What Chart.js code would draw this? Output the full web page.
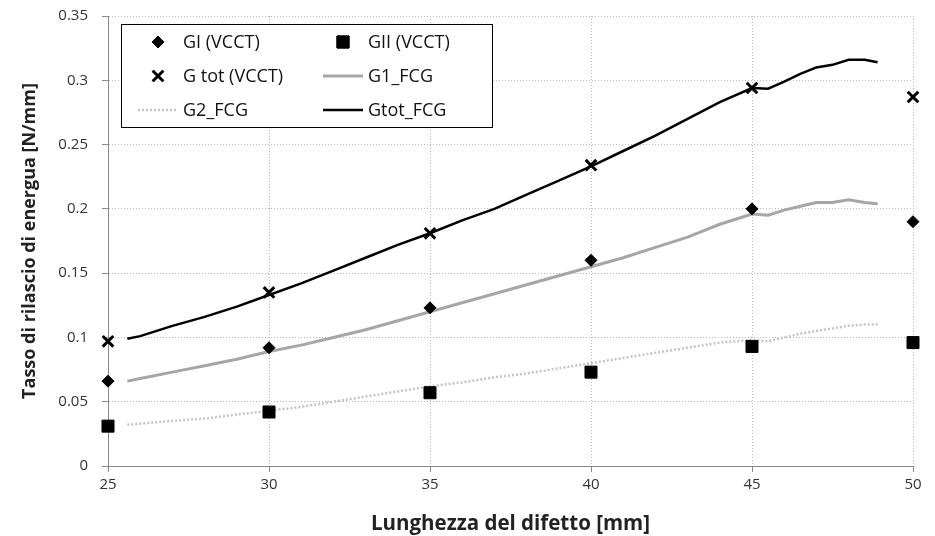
<!DOCTYPE html>
<html>
<head>
<meta charset="utf-8">
<script src="https://cdn.jsdelivr.net/npm/chart.js@4.4.0/dist/chart.umd.min.js"></script>
<style>
  html, body { margin: 0; padding: 0; background: #fff; }
  #wrap { width: 935px; height: 536px; }
</style>
</head>
<body>
<div id="wrap"><canvas id="myChart" width="935" height="536"></canvas></div>
<script>
// VCCT points (crack length in mm)
const vcctX = [25, 30, 35, 40, 45, 50];
const giVcct = [0.066, 0.092, 0.123, 0.160, 0.200, 0.190];
const giiVcct = [0.031, 0.042, 0.057, 0.073, 0.093, 0.096];
const gtotVcct = [0.097, 0.135, 0.181, 0.234, 0.294, 0.287];

// FCG curves
const fcgX = [25.6, 26, 27, 28, 29, 30, 31, 32, 33, 34, 35, 36, 37, 38, 39, 40, 41, 42, 43, 44, 45, 45.5, 46, 46.5, 47, 47.5, 48, 48.5, 48.9];
const g1Fcg = [0.066, 0.068, 0.073, 0.078, 0.083, 0.089, 0.094, 0.100, 0.106, 0.113, 0.120, 0.127, 0.134, 0.141, 0.148, 0.155, 0.162, 0.170, 0.178, 0.188, 0.196, 0.195, 0.199, 0.202, 0.205, 0.205, 0.207, 0.205, 0.204];
const g2Fcg = [0.032, 0.033, 0.035, 0.037, 0.040, 0.043, 0.046, 0.050, 0.054, 0.058, 0.062, 0.065, 0.069, 0.072, 0.076, 0.080, 0.084, 0.088, 0.092, 0.096, 0.098, 0.097, 0.100, 0.103, 0.105, 0.107, 0.109, 0.110, 0.110];
const gtotFcg = [0.099, 0.101, 0.109, 0.116, 0.124, 0.133, 0.142, 0.152, 0.162, 0.172, 0.181, 0.191, 0.200, 0.211, 0.222, 0.233, 0.245, 0.257, 0.270, 0.283, 0.294, 0.2935, 0.299, 0.305, 0.310, 0.312, 0.316, 0.316, 0.314];

const seriesNames = ['GI (VCCT)', 'GII (VCCT)', 'G tot (VCCT)', 'G1_FCG', 'G2_FCG', 'Gtot_FCG'];
const xTitle = 'Lunghezza del difetto [mm]';
const yTitle = 'Tasso di rilascio di energua [N/mm]';

const FONT = "'Open Sans', 'Liberation Sans', sans-serif";

function toPoints(xs, ys) {
    return xs.map((x, i) => ({ x: x, y: ys[i] }));
}

// legend drawn inside the plot, 2 columns x 3 rows, like the original
const boxLegend = {
    id: 'boxLegend',
    afterDraw(chart) {
        const ctx = chart.ctx;
        const ca = chart.chartArea;
        const left = ca.left + 13, top = ca.top + 8, w = 371, h = 103;
        ctx.save();
        ctx.fillStyle = '#fff';
        ctx.fillRect(left, top, w, h);
        ctx.strokeStyle = '#000';
        ctx.lineWidth = 1;
        ctx.strokeRect(left + 0.5, top + 0.5, w, h);

        // order in the box: row by row
        const cells = [
            { ds: 0, col: 0, row: 0 }, { ds: 1, col: 1, row: 0 },
            { ds: 2, col: 0, row: 1 }, { ds: 3, col: 1, row: 1 },
            { ds: 4, col: 0, row: 2 }, { ds: 5, col: 1, row: 2 }
        ];
        const colSym = [left + 37, left + 222];
        const colText = [left + 62, left + 247];
        ctx.font = '18px ' + FONT;
        ctx.textBaseline = 'middle';
        cells.forEach(c => {
            const d = chart.data.datasets[c.ds];
            const cy = top + 18 + c.row * 34;
            const cx = colSym[c.col];
            if (d.showLine) {
                ctx.save();
                ctx.strokeStyle = d.borderColor;
                ctx.lineWidth = d.borderWidth;
                ctx.setLineDash(d.borderDash || []);
                ctx.beginPath();
                ctx.moveTo(cx - 20, cy);
                ctx.lineTo(cx + 20, cy);
                ctx.stroke();
                ctx.restore();
            } else {
                Chart.helpers.drawPoint(ctx, {
                    pointStyle: d.pointStyle,
                    radius: d.pointRadius,
                    rotation: 0,
                    borderWidth: d.borderWidth
                }, cx, cy);
                ctx.fillStyle = '#000';
                ctx.strokeStyle = '#000';
                ctx.lineWidth = d.borderWidth;
                ctx.fill();
                ctx.stroke();
            }
            ctx.fillStyle = '#111';
            ctx.fillText(d.label, colText[c.col], cy + 1);
        });
        ctx.restore();
    }
};

function markerSet(label, ys, style, r, bw) {
    return {
        label: label,
        data: toPoints(vcctX, ys),
        showLine: false,
        pointStyle: style,
        pointRadius: r,
        pointHoverRadius: r,
        backgroundColor: '#000',
        borderColor: '#000',
        borderWidth: bw,
        clip: false
    };
}

function lineSet(label, ys, color, width, dash) {
    return {
        label: label,
        data: toPoints(fcgX, ys),
        showLine: true,
        borderColor: color,
        backgroundColor: color,
        borderWidth: width,
        borderDash: dash,
        pointRadius: 0,
        tension: 0,
        fill: false
    };
}

const gridOpts = {
    color: '#b8b8b8',
    tickLength: 6,
    tickColor: '#888',
    tickBorderDash: []
};

const ctx = document.getElementById('myChart').getContext('2d');
const myChart = new Chart(ctx, {
    type: 'scatter',
    data: {
        datasets: [
            markerSet(seriesNames[0], giVcct, 'rectRot', 6, 1),
            markerSet(seriesNames[1], giiVcct, 'rect', 8.5, 1),
            markerSet(seriesNames[2], gtotVcct, 'crossRot', 7.5, 3),
            lineSet(seriesNames[3], g1Fcg, '#a6a6a6', 3, []),
            lineSet(seriesNames[4], g2Fcg, '#c4c4c4', 2.5, [2, 2]),
            lineSet(seriesNames[5], gtotFcg, '#000000', 2.5, [])
        ]
    },
    options: {
        responsive: false,
        animation: false,
        layout: { padding: { left: 0, right: 22, top: 16, bottom: 0 } },
        plugins: {
            legend: { display: false },
            tooltip: { enabled: false }
        },
        scales: {
            x: {
                type: 'linear',
                min: 25,
                max: 50,
                ticks: {
                    stepSize: 5,
                    color: '#333',
                    font: { size: 15, family: FONT },
                    padding: 4
                },
                grid: gridOpts,
                border: { display: true, color: '#888', width: 1, dash: [1, 2] },
                title: {
                    display: true,
                    text: xTitle,
                    color: '#222',
                    font: { size: 20.5, weight: 'bold', family: FONT },
                    padding: { top: 4, bottom: 0 }
                },
                afterFit(scale) { scale.height = 70; }
            },
            y: {
                min: 0,
                max: 0.35,
                ticks: {
                    stepSize: 0.05,
                    color: '#333',
                    font: { size: 15, family: FONT },
                    padding: 14,
                    callback: v => String(+v.toFixed(2))
                },
                grid: gridOpts,
                border: { display: true, color: '#888', width: 1, dash: [1, 2] },
                title: {
                    display: true,
                    text: yTitle,
                    color: '#222',
                    font: { size: 18, weight: 'bold', family: FONT },
                    padding: { top: 19, bottom: 0 }
                },
                afterFit(scale) {
                    scale.width = 108;
                    scale.paddingTop = 0;
                    scale.paddingBottom = 0;
                }
            }
        }
    },
    plugins: [boxLegend]
});
</script>
</body>
</html>
